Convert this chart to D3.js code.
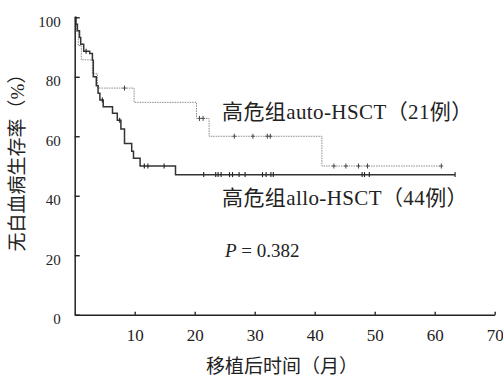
<!DOCTYPE html>
<html><head><meta charset="utf-8">
<script src="https://cdn.jsdelivr.net/npm/d3@7"></script>
<style>
html,body{margin:0;padding:0;background:#fff;}
svg{display:block;}
text{font-family:"Liberation Serif","Noto Sans CJK SC",serif;fill:#222;}
</style></head>
<body>
<svg id="c" width="503" height="377"></svg>
<script>
// Kaplan-Meier step data (months, survival %)
const autoTimes = [0.3, 0.6, 1.1, 2.95, 3.8, 9.9, 20.3, 22.4, 41.2];
const autoSurv  = [95.2, 90.5, 85.7, 81.0, 76.2, 71.4, 66.0, 60.0, 50.0];
const autoEnd = 61.1;
const autoCensor = [8.3, 20.8, 21.4, 26.6, 29.7, 32.1, 32.6, 43.2, 45.2, 47.3, 48.8, 61.1];

const alloTimes = [0.2, 0.45, 0.8, 1.0, 1.5, 2.5, 2.95, 3.1, 3.6, 3.9, 4.2, 4.75, 6.3, 7.1, 7.7, 8.3, 9.5, 9.8, 10.9, 16.8];
const alloSurv  = [97.7, 95.5, 93.2, 90.9, 88.6, 87.8, 85.6, 80.0, 77.0, 74.5, 72.2, 69.9, 67.7, 65.4, 62.4, 57.6, 55.0, 52.6, 50.0, 47.1];
const alloEnd = 63.4;
const alloCensor = [1.9, 4.6, 7.5, 11.6, 12.2, 14.9, 21.5, 23.5, 23.9, 24.4, 25.8, 26.3, 27.4, 28.4, 31.3, 31.9, 32.7, 33.1, 47.9, 48.3, 49.1, 63.4];

const xTicks = [10, 20, 30, 40, 50, 60, 70];
const yTicks = [0, 20, 40, 60, 80, 100];

const autoLabel = "高危组auto-HSCT（21例）";
const alloLabel = "高危组allo-HSCT（44例）";
const xTitle = "移植后时间（月）";
const yTitle = "无白血病生存率（%）";

const svg = d3.select("#c");
const x = d3.scaleLinear().domain([0, 70]).range([74.7, 494.7]);
const y = d3.scaleLinear().domain([0, 100]).range([314.7, 17.3]);

function steps(times, surv, end) {
  const pts = [[0, 100]];
  times.forEach((t, i) => pts.push([t, surv[i]]));
  pts.push([end, surv[surv.length - 1]]);
  return pts;
}
function levelAt(times, surv, t) {
  let v = 100;
  times.forEach((tt, i) => { if (tt <= t) v = surv[i]; });
  return v;
}
const line = d3.line().x(d => x(d[0])).y(d => y(d[1])).curve(d3.curveStepAfter);

// auto (dotted gray)
svg.append("path").datum(steps(autoTimes, autoSurv, autoEnd))
  .attr("d", line).attr("fill", "none").attr("stroke", "#8a8a8a")
  .attr("stroke-width", 1).attr("stroke-dasharray", "1.5,1");
svg.append("g").selectAll("line").data(autoCensor).join("line")
  .attr("x1", d => x(d)).attr("x2", d => x(d))
  .attr("y1", d => y(levelAt(autoTimes, autoSurv, d)) - 2.5)
  .attr("y2", d => y(levelAt(autoTimes, autoSurv, d)) + 2.5)
  .attr("stroke", "#444").attr("stroke-width", 1);
svg.append("g").selectAll("line").data(autoCensor).join("line")
  .attr("x1", d => x(d) - 2).attr("x2", d => x(d) + 2)
  .attr("y1", d => y(levelAt(autoTimes, autoSurv, d)))
  .attr("y2", d => y(levelAt(autoTimes, autoSurv, d)))
  .attr("stroke", "#555").attr("stroke-width", 1);

// allo (solid dark)
svg.append("path").datum(steps(alloTimes, alloSurv, alloEnd))
  .attr("d", line).attr("fill", "none").attr("stroke", "#333")
  .attr("stroke-width", 1.5);
svg.append("g").selectAll("line").data(alloCensor).join("line")
  .attr("x1", d => x(d)).attr("x2", d => x(d))
  .attr("y1", d => y(levelAt(alloTimes, alloSurv, d)) - 2.5)
  .attr("y2", d => y(levelAt(alloTimes, alloSurv, d)) + 2.5)
  .attr("stroke", "#222").attr("stroke-width", 1.1);

// axes
const gy = svg.append("g").attr("transform", `translate(${x(0)},0)`)
  .call(d3.axisLeft(y).tickValues(yTicks).tickSize(-5).tickSizeOuter(0).tickPadding(14));
gy.selectAll("text").attr("font-size", 15).attr("dy", "0.32em")
  .attr("transform", "translate(0,4)").style("font-family", "Liberation Serif").attr("fill", "#222");
gy.selectAll("path,line").attr("stroke", "#222").attr("stroke-width", 1.4);

const gx = svg.append("g").attr("transform", `translate(0,${y(0)})`)
  .call(d3.axisBottom(x).tickValues(xTicks).tickSize(-3).tickSizeOuter(0));
gx.selectAll("text").attr("font-size", 17).attr("dy", null).attr("y", 26.3)
  .style("font-family", "Liberation Serif").attr("fill", "#222");
gx.selectAll("path,line").attr("stroke", "#222").attr("stroke-width", 1.4);
svg.selectAll(".domain").attr("stroke-width", 1.5);

// labels
svg.append("text").attr("x", 222).attr("y", 119).attr("font-size", 21)
  .attr("letter-spacing", 0.4).text(autoLabel);
svg.append("text").attr("x", 222).attr("y", 205).attr("font-size", 21)
  .attr("letter-spacing", 0.4).text(alloLabel);
const p = svg.append("text").attr("x", 225).attr("y", 257).attr("font-size", 19);
p.append("tspan").attr("font-style", "italic").text("P");
p.append("tspan").text(" = 0.382");

svg.append("text").attr("x", 282).attr("y", 373).attr("font-size", 19)
  .attr("text-anchor", "middle").text(xTitle);
svg.append("text").attr("transform", "translate(24,158) rotate(-90)")
  .attr("font-size", 19).attr("text-anchor", "middle").text(yTitle);
</script>
</body></html>
